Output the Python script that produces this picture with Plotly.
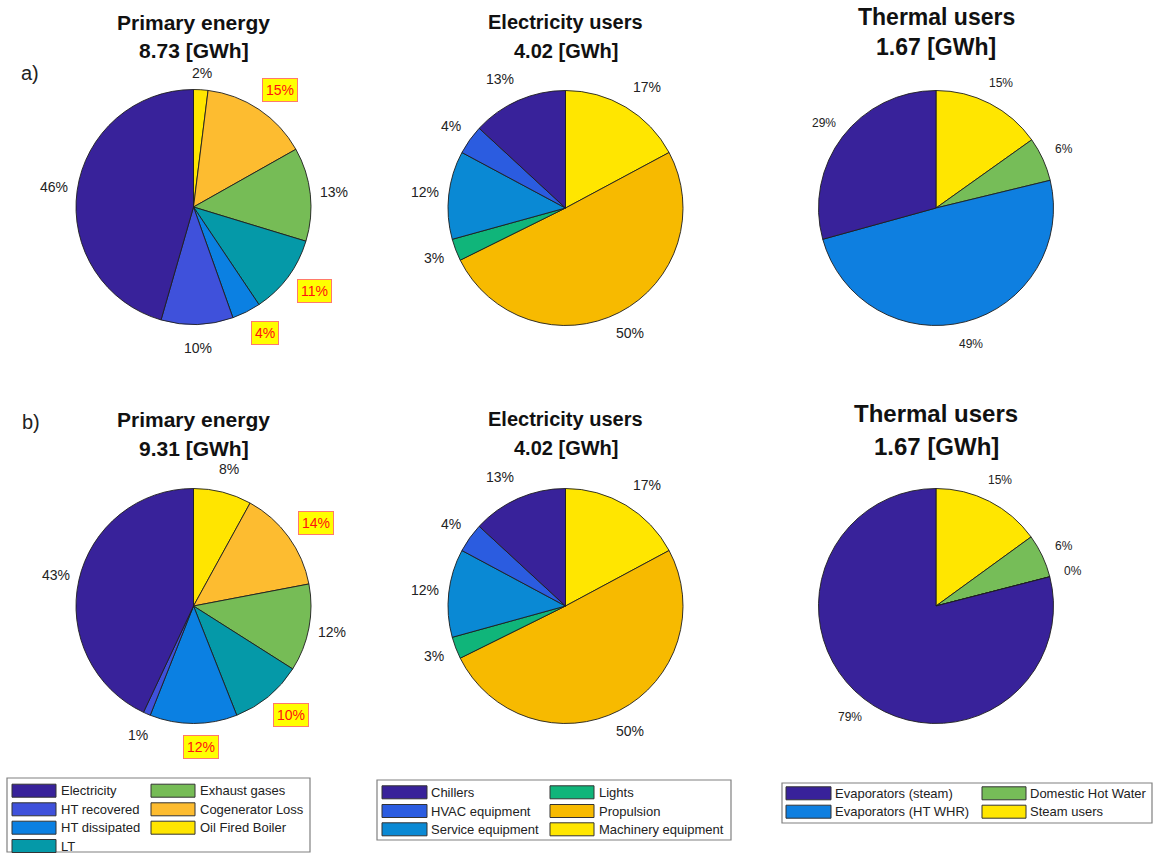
import math
import plotly.graph_objects as go

W, H = 1153, 853

# ---- data -------------------------------------------------------------
primary_labels = ["Electricity", "HT recovered", "HT dissipated", "LT",
                  "Exhaust gases", "Cogenerator Loss", "Oil Fired Boiler"]
primary_a = [46, 10, 4, 11, 13, 15, 2]
primary_b = [43, 1, 12, 10, 12, 14, 8]
primary_highlight = ["HT dissipated", "LT", "Cogenerator Loss"]

elec_labels = ["Chillers", "HVAC equipment", "Service equipment", "Lights",
               "Propulsion", "Machinery equipment"]
elec_a = [13, 4, 12, 3, 50, 17]
elec_b = [13, 4, 12, 3, 50, 17]

thermal_labels = ["Evaporators (steam)", "Evaporators (HT WHR)",
                  "Domestic Hot Water", "Steam users"]
thermal_a = [29, 49, 6, 15]
thermal_b = [79, 0, 6, 15]

totals_gwh = {"primary_a": 8.73, "elec_a": 4.02, "thermal_a": 1.67,
              "primary_b": 9.31, "elec_b": 4.02, "thermal_b": 1.67}

# ---- colours ----------------------------------------------------------
primary_colors = ["#38229A", "#3F51DB", "#0B80E2", "#0599A8",
                  "#76BC56", "#FDBC30", "#FFE500"]
elec_colors = ["#38229A", "#2B5CE0", "#0A89D4", "#10B57A", "#F7BA00", "#FFE600"]
thermal_colors = ["#38229A", "#0E7FE0", "#76BD58", "#FFE600"]

FONT = "Arial, Liberation Sans, sans-serif"
R = 117.5  # pie radius in px

fig = go.Figure()
annotations = []
shapes = []


def px(x):
    return x / W


def py(y):
    return 1 - y / H


def add_pie(labels, values, colors, cx, cy, title, total, title_size,
            title_y, label_size, highlight=(), nudge=None):
    nudge = nudge or {}
    # slices run counter-clockwise from 12 o'clock: feed them reversed to a
    # clockwise pie so the first category starts at the top going left
    fig.add_trace(go.Pie(
        labels=labels[::-1], values=values[::-1], sort=False,
        direction="clockwise", rotation=0, textinfo="none",
        hoverinfo="label+value",
        marker=dict(colors=colors[::-1], line=dict(color="#1e1e1e", width=0.9)),
        domain=dict(x=[px(cx - R), px(cx + R)], y=[py(cy + R), py(cy - R)]),
        showlegend=False,
    ))
    # two-line bold title
    annotations.append(dict(x=px(cx), y=py(title_y[0]), xref="paper", yref="paper",
                            text=f"<b>{title}</b>", showarrow=False,
                            font=dict(family=FONT, size=title_size, color="#111"),
                            xanchor="center", yanchor="middle"))
    annotations.append(dict(x=px(cx), y=py(title_y[1]), xref="paper", yref="paper",
                            text=f"<b>{total:.2f} [GWh]</b>", showarrow=False,
                            font=dict(family=FONT, size=title_size, color="#111"),
                            xanchor="center", yanchor="middle"))
    # percentage labels at 1.2 R along each slice's mid angle
    tot = sum(values)
    cum = 0.0
    for lab, v in zip(labels, values):
        mid = (cum + v / 2) / tot
        cum += v
        ang = math.radians(90 + 360 * mid)
        dx, dy = nudge.get(lab, (0, 0))
        lx = cx + 1.2 * R * math.cos(ang) + dx
        ly = cy - 1.2 * R * math.sin(ang) + dy
        ann = dict(x=px(lx), y=py(ly), xref="paper", yref="paper",
                   text=f"{v}%", showarrow=False, xanchor="center",
                   yanchor="middle",
                   font=dict(family=FONT, size=label_size, color="#222"))
        if lab in highlight:
            ann.update(bgcolor="#FFFF00", bordercolor="#FF7A6A", borderwidth=1,
                       borderpad=3, xshift=8,
                       font=dict(family=FONT, size=label_size, color="#FF1010"))
        annotations.append(ann)


elec_nudge = {"Chillers": (-9, 0), "Machinery equipment": (9, 0)}

add_pie(primary_labels, primary_a, primary_colors, 193.5, 207, "Primary energy",
        totals_gwh["primary_a"], 21, (22, 51), 14, primary_highlight,
        nudge={"Oil Fired Boiler": (0, 7)})
add_pie(elec_labels, elec_a, elec_colors, 565.5, 208, "Electricity users",
        totals_gwh["elec_a"], 20, (22, 51), 14, nudge=elec_nudge)
add_pie(thermal_labels, thermal_a, thermal_colors, 936, 208, "Thermal users",
        totals_gwh["thermal_a"], 23, (17, 47), 12)
add_pie(primary_labels, primary_b, primary_colors, 193.5, 606, "Primary energy",
        totals_gwh["primary_b"], 21, (420, 449), 14, primary_highlight)
add_pie(elec_labels, elec_b, elec_colors, 565.5, 606, "Electricity users",
        totals_gwh["elec_b"], 20, (419, 448), 14, nudge=elec_nudge)
add_pie(thermal_labels, thermal_b, thermal_colors, 936, 606, "Thermal users",
        totals_gwh["thermal_b"], 24, (413, 446), 12)

# panel tags
for tag, (tx, ty) in (("a)", (30, 73)), ("b)", (31, 422))):
    annotations.append(dict(x=px(tx), y=py(ty), xref="paper", yref="paper",
                            text=tag, showarrow=False,
                            font=dict(family=FONT, size=20, color="#222"),
                            xanchor="center", yanchor="middle"))


# ---- boxed two-column legends ----------------------------------------
def add_legend(labels, colors, box, rows_y, col_x, text_x):
    x0, y0, x1, y1 = box
    shapes.append(dict(type="rect", xref="paper", yref="paper",
                       x0=px(x0), x1=px(x1), y0=py(y1), y1=py(y0),
                       line=dict(color="#808080", width=1.2), fillcolor="white",
                       layer="below"))
    nrows = len(rows_y)
    for i, (lab, col) in enumerate(zip(labels, colors)):
        c, r = divmod(i, nrows)
        yc = rows_y[r]
        sx0, sx1 = col_x[c]
        shapes.append(dict(type="rect", xref="paper", yref="paper",
                           x0=px(sx0), x1=px(sx1), y0=py(yc + 6.5), y1=py(yc - 6.5),
                           line=dict(color="#333", width=1), fillcolor=col))
        annotations.append(dict(x=px(text_x[c]), y=py(yc), xref="paper", yref="paper",
                                text=lab, showarrow=False, xanchor="left",
                                yanchor="middle",
                                font=dict(family=FONT, size=13, color="#222")))


add_legend(primary_labels, primary_colors, (7, 778, 310, 852),
           [790.7, 809.3, 827.7, 846], [(12, 56), (151, 195)], [59, 198])
add_legend(elec_labels, elec_colors, (377, 780, 731, 840),
           [792.3, 811, 829.3], [(382, 427), (550, 594)], [429, 597])
add_legend(thermal_labels, thermal_colors, (782, 783, 1152, 823),
           [793.3, 811.7], [(786, 831), (982, 1026)], [833, 1028])

fig.update_layout(
    width=W, height=H,
    margin=dict(l=0, r=0, t=0, b=0),
    paper_bgcolor="white", plot_bgcolor="white",
    annotations=annotations, shapes=shapes,
    showlegend=False,
)

fig.write_html("out.html")
